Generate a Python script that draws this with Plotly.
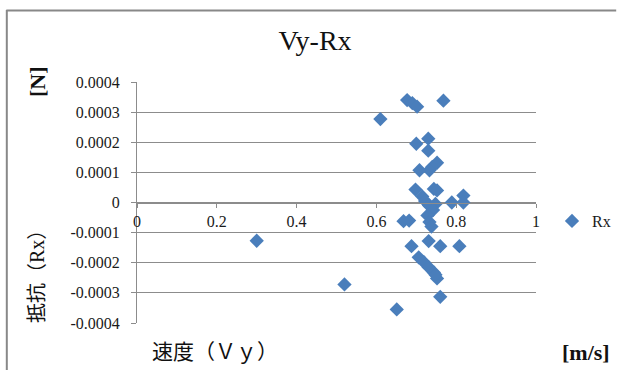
import plotly.graph_objects as go

# Measured velocity Vy [m/s] and resistance Rx [N]
vy = [0.300, 0.520, 0.610, 0.651, 0.668, 0.682, 0.677, 0.690, 0.702, 0.768,
      0.730, 0.700, 0.730, 0.752, 0.740, 0.733, 0.708, 0.698, 0.715, 0.744,
      0.752, 0.722, 0.732, 0.748, 0.742, 0.728, 0.733, 0.738, 0.789, 0.818,
      0.818, 0.731, 0.688, 0.760, 0.808, 0.706, 0.719, 0.731, 0.744, 0.752,
      0.748, 0.760]
rx = [-0.000127, -0.000272, 0.000277, -0.000355, -0.000062, -0.000060, 0.000340, 0.000330, 0.000318, 0.000338,
      0.000212, 0.000195, 0.000172, 0.000132, 0.000118, 0.000107, 0.000107, 0.000043, 0.000020, 0.000045,
      0.000040, 0.000005, -0.000010, -0.000005, -0.000025, -0.000043, -0.000065, -0.000080, 0.000000, 0.000023,
      0.000000, -0.000128, -0.000145, -0.000145, -0.000145, -0.000182, -0.000198, -0.000215, -0.000232, -0.000252,
      -0.000240, -0.000313]

x_ticks = [0, 0.2, 0.4, 0.6, 0.8, 1]
x_tick_text = ["0", "0.2", "0.4", "0.6", "0.8", "1"]
y_ticks = [0.0004, 0.0003, 0.0002, 0.0001, 0, -0.0001, -0.0002, -0.0003, -0.0004]
y_tick_text = ["0.0004", "0.0003", "0.0002", "0.0001", "0",
               "-0.0001", "-0.0002", "-0.0003", "-0.0004"]

W, H = 622, 372
ML, MR, MT, MB = 137, 82, 82, 49
PW, PH = W - ML - MR, H - MT - MB

def px_x(p):
    return (p - ML) / PW

def px_y(p):
    return (H - MB - p) / PH

SERIF = "Liberation Serif, Noto Sans CJK JP"
GRID = "#8c8c8c"
BLUE = "#4A7EBB"
TEXT = "#1a1a1a"

fig = go.Figure()
fig.add_trace(go.Scatter(
    x=vy, y=rx, mode="markers", name="Rx",
    marker=dict(symbol="diamond", size=11, color=BLUE, line=dict(width=0)),
))

fig.update_layout(
    width=W, height=H, autosize=False,
    margin=dict(l=ML, r=MR, t=MT, b=MB, pad=0),
    paper_bgcolor="white", plot_bgcolor="white",
    font=dict(family=SERIF, size=16, color=TEXT),
    title=dict(text="Vy-Rx", font=dict(family=SERIF, size=28, color="#111"),
               xref="container", yref="container",
               x=315 / W, y=1 - 40 / H, xanchor="center", yanchor="middle"),
    showlegend=True,
    # legend placed in container coordinates so it does not push the margins
    legend=dict(xref="container", yref="container",
                x=(W - 6) / W, y=1 - 221 / H, xanchor="right", yanchor="middle",
                font=dict(family=SERIF, size=16, color=TEXT),
                bgcolor="rgba(0,0,0,0)", itemwidth=30, borderwidth=0),
    xaxis=dict(range=[0, 1], tickvals=x_ticks, ticktext=x_tick_text,
               showgrid=False, zeroline=False,
               showline=True, linecolor=GRID, linewidth=1,
               ticks="outside", ticklen=4, tickcolor=GRID,
               anchor="free", position=0.5,
               tickfont=dict(family=SERIF, size=16, color=TEXT)),
    yaxis=dict(range=[-0.0004, 0.0004], tickvals=y_ticks, ticktext=y_tick_text,
               showgrid=True, gridcolor=GRID, gridwidth=1,
               zeroline=True, zerolinecolor=GRID, zerolinewidth=1,
               showline=True, linecolor=GRID, linewidth=1,
               ticks="outside", ticklen=5, tickcolor=GRID,
               ticklabelstandoff=8,
               tickfont=dict(family=SERIF, size=16, color=TEXT)),
)

annotations = [
    dict(text="<b>[N]</b>", x=px_x(36), y=px_y(82), textangle=-90,
         font=dict(family=SERIF, size=22, color="#111")),
    dict(text="抵抗（Rx）", x=px_x(36), y=px_y(272), textangle=-90,
         font=dict(family=SERIF, size=20, color="#111")),
    dict(text="速度（Ｖｙ）", x=px_x(216), y=px_y(352),
         font=dict(family=SERIF, size=21, color="#111")),
    dict(text="<b>[m/s]</b>", x=px_x(591), y=px_y(352),
         font=dict(family=SERIF, size=22, color="#111")),
]
for a in annotations:
    a.update(xref="paper", yref="paper", showarrow=False,
             xanchor="center", yanchor="middle")
fig.update_layout(annotations=annotations)

# Chart frame: top and left edges, kept inside the canvas
fig.add_shape(type="line", xref="paper", yref="paper",
              x0=px_x(5), x1=px_x(W - 1), y0=px_y(10.5), y1=px_y(10.5),
              line=dict(color="#888", width=2))
fig.add_shape(type="line", xref="paper", yref="paper",
              x0=px_x(5.5), x1=px_x(5.5), y0=px_y(10), y1=px_y(H - 2),
              line=dict(color="#888", width=2))

fig.write_html("out.html")
